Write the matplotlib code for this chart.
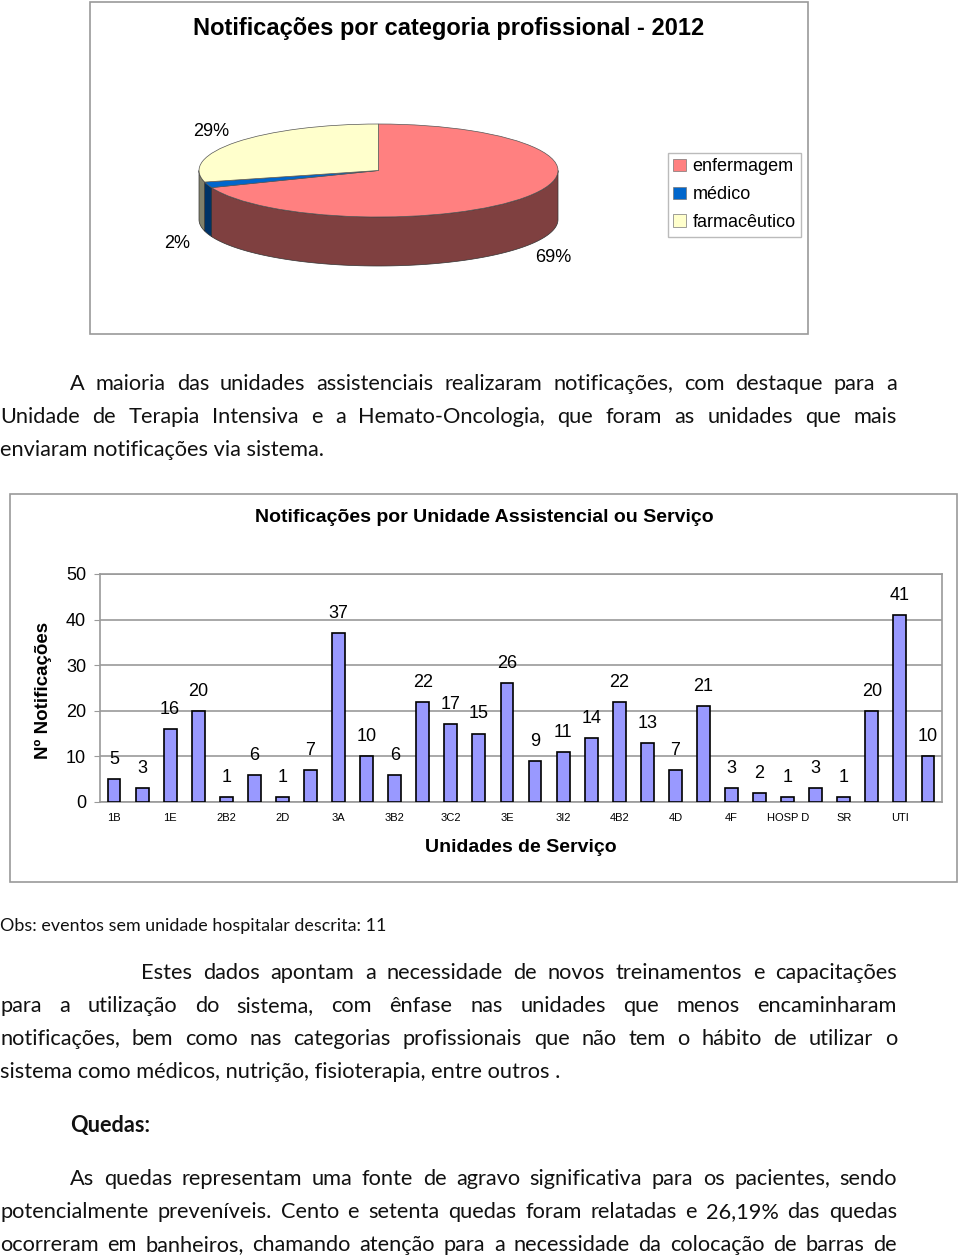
import numpy as np
import matplotlib.pyplot as plt
from matplotlib.patches import Rectangle, Patch

plt.rcParams['font.family'] = ['Liberation Sans', 'DejaVu Sans']

# Dados do gráfico de pizza
categorias = ['enfermagem', 'médico', 'farmacêutico']
percentuais = [69, 2, 29]
cor_topo = ['#FF8080', '#0066CC', '#FFFFCC']
cor_lado = ['#7F4040', '#003366', '#80806A']

# Dados do gráfico de barras (só metade das unidades tem rótulo no eixo)
unidades = ['1B', '1E', '2B2', '2D', '3A', '3B2', '3C2', '3E', '3I2', '4B2',
            '4D', '4F', 'HOSP D', 'SR', 'UTI']
notificacoes = [5, 3, 16, 20, 1, 6, 1, 7, 37, 10, 6, 22, 17, 15, 26,
                9, 11, 14, 22, 13, 7, 21, 3, 2, 1, 3, 1, 20, 41, 10]

W, H = 960, 1260
fig = plt.figure(figsize=(W / 100, H / 100), dpi=100)
pag = fig.add_axes([0, 0, 1, 1])
pag.set_xlim(0, W)
pag.set_ylim(H, 0)
pag.axis('off')


def eixo(x0, y0, x1, y1):
    return fig.add_axes([x0 / W, 1 - y1 / H, (x1 - x0) / W, (y1 - y0) / H])


# molduras dos gráficos
pag.add_patch(Rectangle((90, 2), 718, 332, fill=False, ec='#9a9a9a', lw=1.2))
pag.add_patch(Rectangle((10, 494), 947, 388, fill=False, ec='#9a9a9a', lw=1.2))

# ---------------- pizza 3D ----------------
pag.text(449, 29, 'Notificações por categoria profissional - 2012',
         ha='center', va='center', fontsize=17, weight='bold')

ax = eixo(100, 60, 660, 330)
cx, cy, rx, ry = 378.5, 170.5, 179.5, 46.5
prof = 49 / ry

ax.pie(percentuais, colors=cor_topo, startangle=90, counterclock=False,
       wedgeprops=dict(ec='#555555', lw=0.5, zorder=3))
ax.set_aspect('auto')
ax.set_xlim((100 - cx) / rx, (660 - cx) / rx)
ax.set_ylim((cy - 330) / ry, (cy - 60) / ry)
ax.axis('off')

fr = np.array(percentuais) / sum(percentuais)
fim = 90 - 360 * np.cumsum(fr)
ini = np.r_[90, fim[:-1]]
for a0, a1, c in zip(ini, fim, cor_lado):
    lo, hi = max(a1, -180), min(a0, 0)
    if lo < hi:
        t = np.radians(np.linspace(lo, hi, 120))
        xs, ys = np.cos(t), np.sin(t)
        ax.fill(np.r_[xs, xs[::-1]], np.r_[ys, ys[::-1] - prof],
                fc=c, ec='#333333', lw=0.5, zorder=1)

for a0, a1, p in zip(ini, fim, percentuais):
    m = np.radians((a0 + a1) / 2)
    x, y = 1.18 * np.cos(m), 1.18 * np.sin(m)
    if y < 0:
        y -= prof + 0.15
    else:
        y += 0.12
    ax.text(x, y, f'{p}%', ha='center', va='center', fontsize=13)

fig.legend(handles=[Patch(fc=c, ec='#777777', lw=0.5) for c in cor_topo],
           labels=categorias, loc='upper left',
           bbox_to_anchor=(668 / W, 1 - 153 / H), frameon=True, fancybox=False,
           edgecolor='#aaaaaa', fontsize=13, handlelength=0.7, handleheight=0.7,
           handletextpad=0.35, labelspacing=0.6, borderpad=0.3,
           borderaxespad=0)

# ---------------- barras ----------------
pag.text(484, 517, 'Notificações por Unidade Assistencial ou Serviço',
         ha='center', va='center', fontsize=14, weight='bold')
pag.text(43, 690, 'Nº Notificações', rotation=90, ha='center', va='center',
         fontsize=13.5, weight='bold')
pag.text(521, 847, 'Unidades de Serviço', ha='center', va='center',
         fontsize=14, weight='bold')

bx = eixo(100, 574, 942, 802)
pos = np.arange(len(notificacoes))
bx.bar(pos, notificacoes, width=0.46, color='#9999FF', ec='black', lw=1.2,
       zorder=3)
bx.set_xlim(-0.5, len(notificacoes) - 0.5)
bx.set_ylim(0, 50)
bx.set_yticks(range(0, 51, 10))
bx.yaxis.grid(True, color='#9a9a9a', lw=1.2)
bx.set_axisbelow(True)
bx.set_xticks(pos[::2])
bx.set_xticklabels(unidades, fontsize=8)
bx.tick_params(axis='x', length=0, pad=8)
bx.tick_params(axis='y', length=4, color='#9a9a9a', labelsize=13, pad=6)
for s in bx.spines.values():
    s.set_color('#9a9a9a')
    s.set_linewidth(1.2)
for x, v in zip(pos, notificacoes):
    bx.annotate(str(v), (x, v), xytext=(0, 8), textcoords='offset points',
                ha='center', va='bottom', fontsize=13)

# ---------------- texto da página ----------------
rend = fig.canvas.get_renderer()
corpo = dict(fontsize=15.7, family=['Lato', 'DejaVu Sans'], color='#111111')


def linha(txt, x0, y, just=True, x1=897, **kw):
    kw = {**corpo, **kw}
    if not just:
        pag.text(x0, y, txt, ha='left', va='baseline', **kw)
        return
    palavras = txt.split()
    objs = [pag.text(0, y, p, ha='left', va='baseline', **kw) for p in palavras]
    larg = [o.get_window_extent(rend).width for o in objs]
    esp = (x1 - x0 - sum(larg)) / (len(palavras) - 1)
    x = x0
    for o, l in zip(objs, larg):
        o.set_x(x)
        x += l + esp


linha('A maioria das unidades assistenciais realizaram notificações, com destaque para a', 70, 390)
linha('Unidade de Terapia Intensiva e a Hemato-Oncologia, que foram as unidades que mais', 0, 423)
linha('enviaram notificações via sistema.', 0, 456, just=False)

linha('Obs: eventos sem unidade hospitalar descrita: 11', 0, 931, just=False, fontsize=12.9)

linha('Estes dados apontam a necessidade de novos treinamentos e capacitações', 141, 979)
linha('para a utilização do sistema, com ênfase nas unidades que menos encaminharam', 0, 1012)
linha('notificações, bem como nas categorias profissionais que não tem o hábito de utilizar o', 0, 1045)
linha('sistema como médicos, nutrição, fisioterapia, entre outros .', 0, 1078, just=False)

linha('Quedas:', 70, 1132, just=False, weight='bold')

linha('As quedas representam uma fonte de agravo significativa para os pacientes, sendo', 70, 1185)
linha('potencialmente preveníveis. Cento e setenta quedas foram relatadas e 26,19% das quedas', 0, 1218)
linha('ocorreram em banheiros, chamando atenção para a necessidade da colocação de barras de', 0, 1251)

fig.savefig('out.png', dpi=100)
